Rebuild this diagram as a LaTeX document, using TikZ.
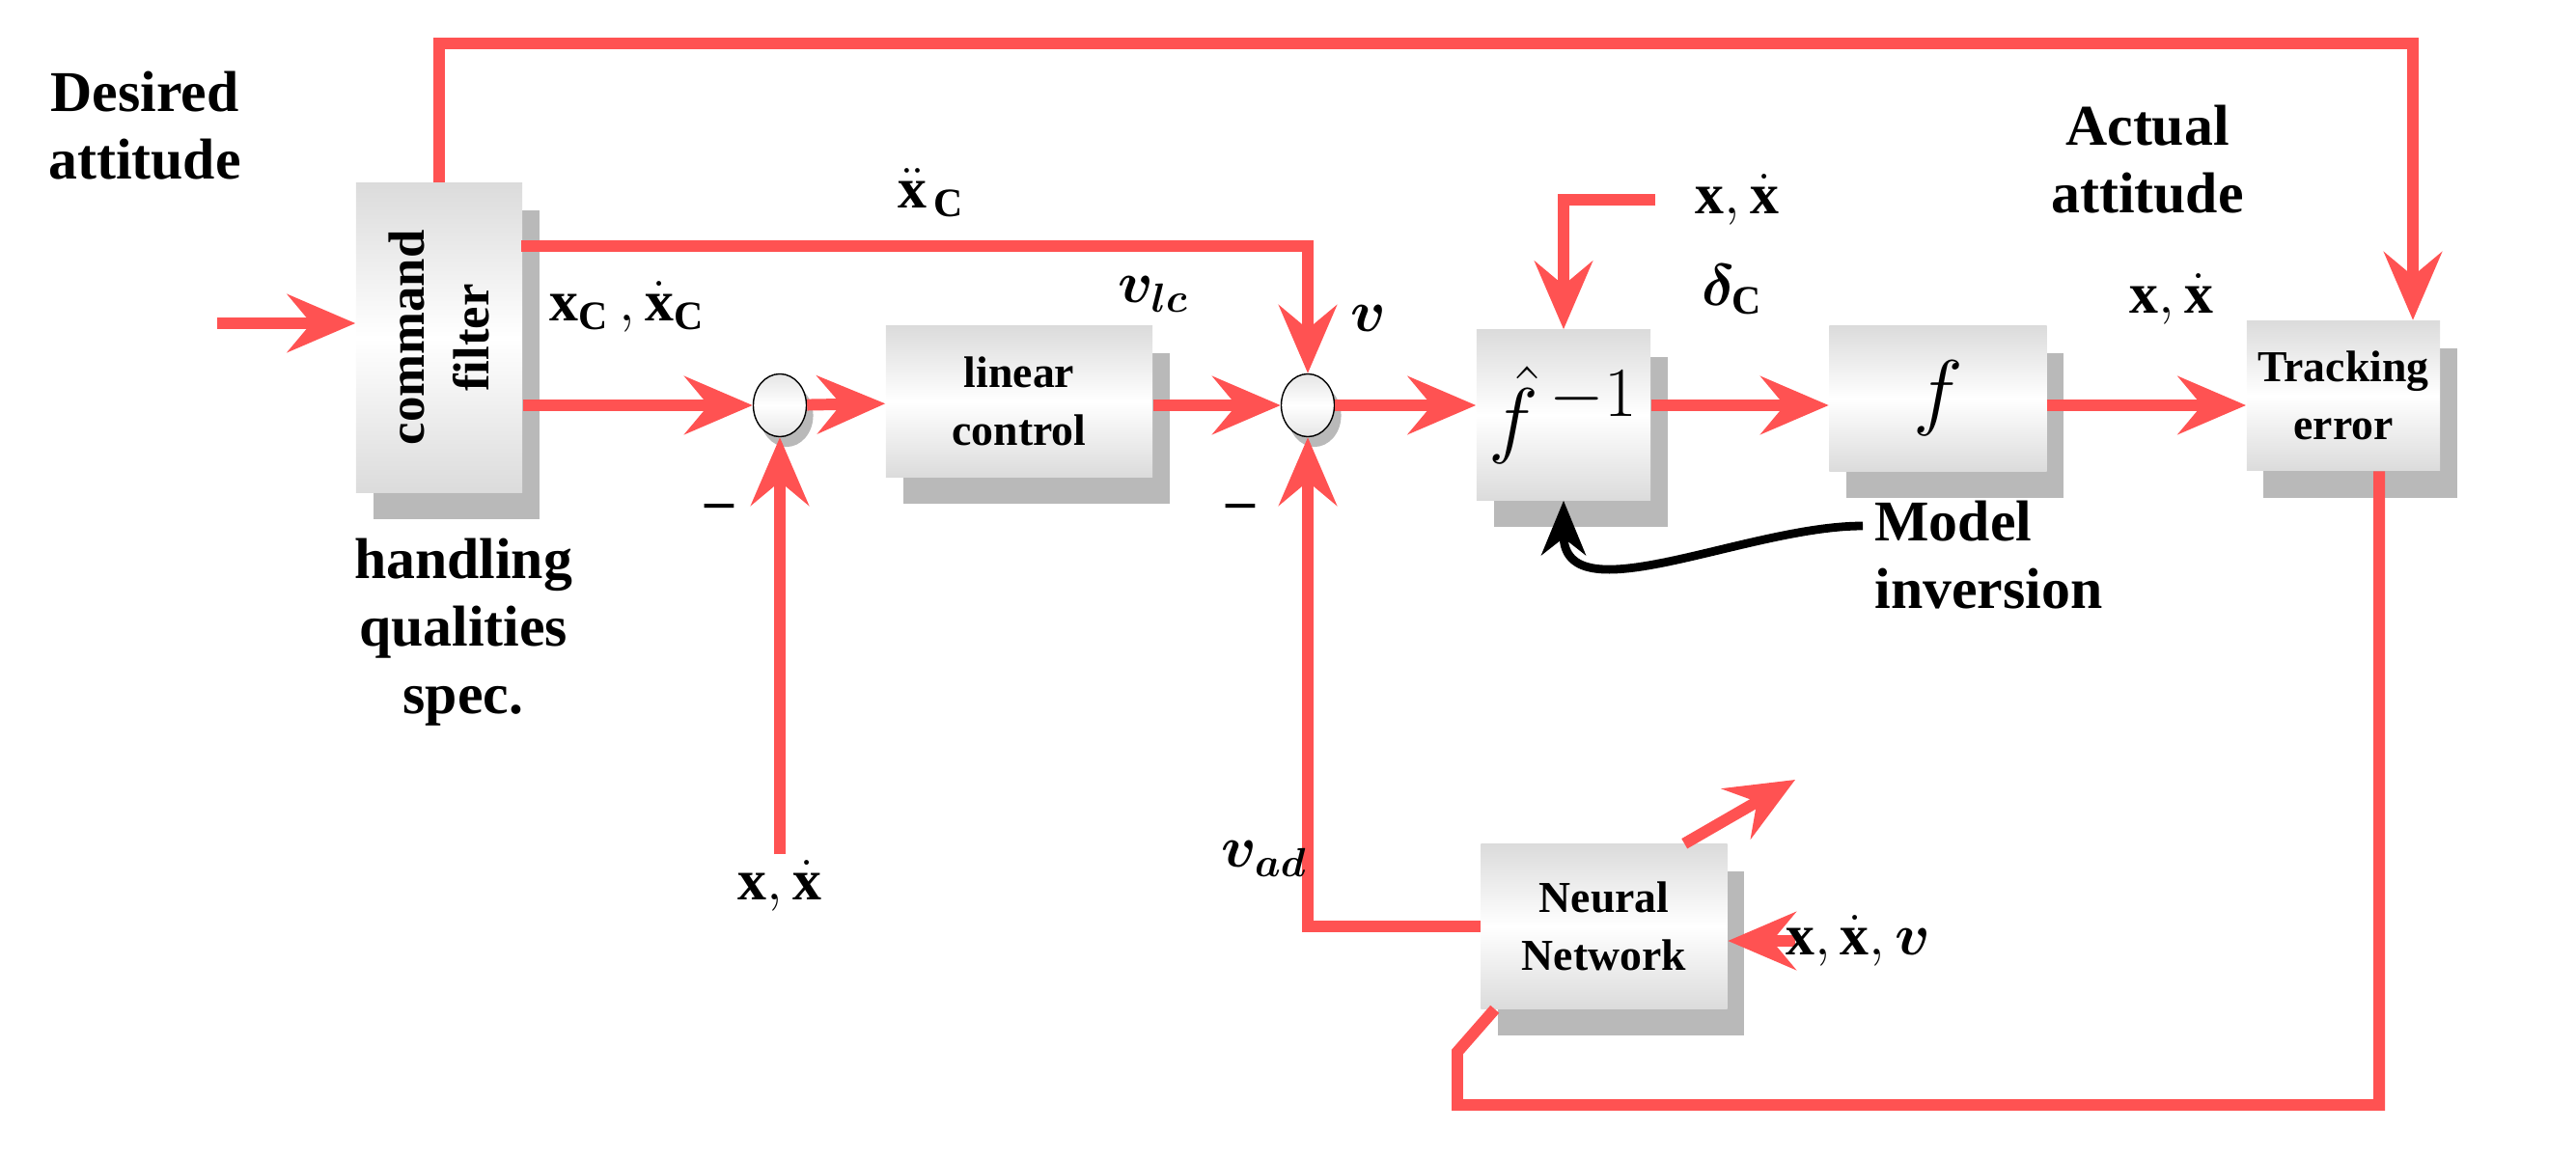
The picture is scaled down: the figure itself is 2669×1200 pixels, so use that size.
\documentclass[tikz,border=0pt]{standalone}
\usepackage{amsmath}
\usepackage{bm}
\usepackage{fontspec}
\setmainfont{Liberation Serif}
\usetikzlibrary{arrows.meta,shadows,shapes.geometric}
\definecolor{sigred}{RGB}{255,82,82}
\tikzset{
  blk/.style={draw=none, top color=gray!28, bottom color=gray!28, middle color=white,
    drop shadow={shadow xshift=5pt, shadow yshift=-8pt, fill=gray!55, opacity=1},
    align=center, font=\bfseries\fontsize{12}{14}\selectfont},
  sum/.style={ellipse, draw, thin, minimum width=0.55cm, minimum height=0.65cm,
    top color=gray!20, bottom color=gray!20, middle color=white,
    drop shadow={shadow xshift=2pt, shadow yshift=-3pt, fill=gray!55, opacity=1}},
  sig/.style={draw=sigred, line width=3.4pt, -{Stealth[length=20pt,width=17pt,inset=7pt]}},
  wire/.style={draw=sigred, line width=3.4pt},
  lbl/.style={font=\bfseries\fontsize{17}{20}\selectfont, align=center}
}
\begin{document}
\begin{tikzpicture}[x=0.01cm, y=-0.01cm]
\useasboundingbox (0,0) rectangle (2669,1200);

% blocks
\node[blk, minimum width=1.72cm, minimum height=3.2cm] (cmd) at (455,350) {};
\node[rotate=90, align=center, font=\bfseries\fontsize{15}{19}\selectfont] (cmdtxt) at (cmd.center) {command\\filter};
\node[sum] (s1) at (808,420) {};
\node[blk, minimum width=2.76cm, minimum height=1.56cm, font=\bfseries\fontsize{13}{17}\selectfont] (lin) at (1056,416) {linear\\control};
\node[sum] (s2) at (1355,420) {};
\node[blk, minimum width=1.8cm, minimum height=1.76cm, font=\fontsize{28}{30}\selectfont] (inv) at (1620,430) {$\hat{f}^{\,-1}$};
\node[blk, minimum width=2.25cm, minimum height=1.5cm, font=\fontsize{28}{30}\selectfont] (plant) at (2008,413) {$f$};
\node[blk, minimum width=1.8cm, minimum height=1.55cm, font=\bfseries\fontsize{13}{17}\selectfont] (trk) at (2428,410) {Tracking\\error};
\node[blk, minimum width=2.55cm, minimum height=1.7cm, font=\bfseries\fontsize{13}{17}\selectfont] (nn) at (1662,960) {Neural\\Network};

% free ends
\coordinate (din) at (225,335);
\coordinate (ddout) at (540,255);
\coordinate (topL) at (455,45);
\coordinate (topR) at (2500,45);
\coordinate (fb1) at (808,885);
\coordinate (xin) at (1715,207);
\coordinate (nnin) at (1860,975);
\coordinate (nnout) at (1860,808);
\coordinate (botR) at (2465,1145);
\coordinate (botL) at (1510,1145);
\coordinate (botU) at (1510,1090);

% signals
\draw[sig] (din) -- (cmd.west |- din);
\draw[sig] (cmd.east |- s1) -- (s1);
\draw[sig] (s1) -- (lin);
\draw[sig] (lin.east |- s2) -- (s2);
\draw[sig] (s2) -- (inv.west |- s2);
\draw[sig] (inv.east |- s2) -- (plant.west |- s2);
\draw[sig] (plant.east |- s2) -- (trk.west |- s2);
\draw[sig] (ddout) -| (s2.north);
\draw[sig] (cmd.north) -- (topL) -- (topR) -- (topR |- trk.north);
\draw[sig] (fb1) -- (s1.south);
\draw[sig] (xin) -| (inv.north);
\draw[sig] (nn.west) -| (s2.south);
\draw[sig] (nnin) -- (nn.east |- nnin);
\draw[sig] ([xshift=-0.45cm]nn.north east) -- (nnout);
\draw[wire] (botR |- trk.south) -- (botR) -- (botL) -- (botU) -- ([xshift=0.15cm]nn.south west);

% labels
\node[lbl] (desired) at (150,130) {Desired\\attitude};
\node[lbl] (xddc) at (965,200) {$\ddot{\mathbf{x}}_{\,\mathbf{C}}$};
\node[lbl] (xc) at (650,318) {$\mathbf{x}_{\mathbf{C}}\,,\dot{\mathbf{x}}_{\mathbf{C}}$};
\node[lbl] (m1) at (745,530) {--};
\node[lbl] (m2) at (1285,530) {--};
\node[lbl] (x1) at (808,918) {$\mathbf{x},\dot{\mathbf{x}}$};
\node[lbl] (vlc) at (1195,305) {$\bm{v_{lc}}$};
\node[lbl] (nu) at (1418,330) {$\bm{v}$};
\node[lbl] (dc) at (1795,300) {$\bm{\delta}_{\mathbf{C}}$};
\node[lbl] (x2) at (1800,207) {$\mathbf{x},\dot{\mathbf{x}}$};
\node[lbl] (actual) at (2225,165) {Actual\\attitude};
\node[lbl] (x3) at (2250,310) {$\mathbf{x},\dot{\mathbf{x}}$};
\node[lbl] (hq) at (480,655) {handling\\qualities\\spec.};
\node[lbl, align=left, anchor=west] (mi) at (1930,575) {Model\\inversion};
\node[lbl] (vad) at (1310,890) {$\bm{v_{ad}}$};
\node[lbl] (x4) at (1925,975) {$\mathbf{x},\dot{\mathbf{x}},\bm{v}$};

\draw[line width=2.5pt, -{Stealth[length=16pt,width=13pt,inset=5pt]}] (mi.west |- 0,545) to[out=180, in=-90] (inv.south);
\end{tikzpicture}
\end{document}
